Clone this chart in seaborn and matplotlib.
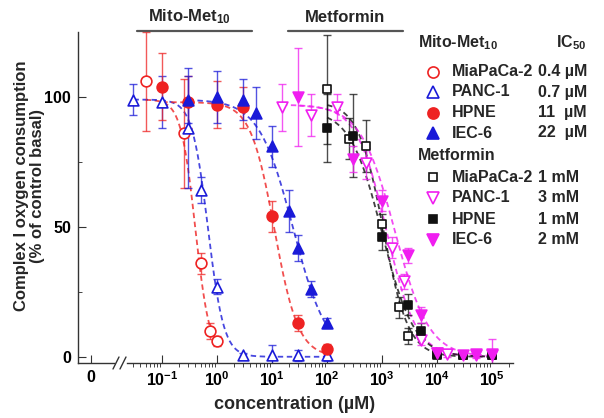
import numpy as np
import pandas as pd
import seaborn as sns
import matplotlib.pyplot as plt
from matplotlib.lines import Line2D

# ---- data (concentration in uM, % of control basal) ----
mm_mia_x = [0.05, 0.25, 0.5, 0.75, 1.0]
mm_mia_y = [106, 86, 36, 10, 6]
mm_mia_e = [19, 21, 4, 3, 2]

mm_panc_x = [0.03, 0.1, 0.3, 0.5, 1, 3, 10, 30, 100]
mm_panc_y = [99, 98, 88, 64, 27, 0.5, 0.5, 0.5, 0.5]
mm_panc_e = [6, 10, 23, 5, 3, 1, 4, 2, 2]

mm_hpne_x = [0.1, 0.3, 1, 3, 10, 30, 100]
mm_hpne_y = [104, 98, 97, 96, 54, 13, 3]
mm_hpne_e = [13, 10, 9, 8, 6, 3, 2]

mm_iec_x = [0.3, 1, 3, 5, 10, 20, 30, 50, 100]
mm_iec_y = [99, 100, 99, 94, 81, 56, 42, 26, 13]
mm_iec_e = [9, 10, 8, 10, 8, 8, 5, 3, 2]

met_mia_x = [100, 250, 500, 1000, 2000, 3000, 10000, 30000, 100000]
met_mia_y = [103, 84, 81, 51, 19, 8, 1, 0.5, 0.5]
met_mia_e = [21, 8, 10, 4, 4, 3, 1, 1, 1]

met_panc_x = [15, 50, 150, 500, 1500, 2500, 5000, 10000, 15000, 50000, 100000]
met_panc_y = [96, 93, 96, 74.5, 42, 29, 6.5, 1.5, 1, 1, 1]
met_panc_e = [9, 8, 5, 6, 4, 3, 2, 1, 1, 1, 6]

met_hpne_x = [100, 300, 1000, 3000, 5000, 10000, 30000, 100000]
met_hpne_y = [88, 85, 46, 20, 10, 0.5, 0.5, 0.5]
met_hpne_e = [13, 16, 5, 4, 3, 1, 1, 1]

met_iec_x = [30, 300, 1000, 3000, 5000, 10000, 30000, 50000, 100000]
met_iec_y = [100, 76, 60, 39, 16, 1.5, 0.5, 0.5, 0.5]
met_iec_e = [19, 5, 4, 3, 3, 1, 1, 1, 1]

cells = ["MiaPaCa-2", "PANC-1", "HPNE", "IEC-6"]
mm_ic50 = ["0.4 \u00b5M", "0.7 \u00b5M", "11  \u00b5M", "22  \u00b5M"]
met_ic50 = ["1 mM", "3 mM", "1 mM", "2 mM"]

# Hill fit parameters (top, midpoint, slope) for the dashed curves
mm_fit_top = [99, 99, 98, 99]
mm_fit_ec = [0.4, 0.68, 11, 24]
mm_fit_h = [3.3, 3.0, 2.0, 1.4]
met_fit_top = [98, 97, 95, 97]
met_fit_ec = [1050, 1200, 1000, 1700]
met_fit_h = [1.9, 1.6, 1.5, 1.4]

RED, BLUE, MAG, BLK = "#ee2222", "#1a1ad8", "#f01ef0", "#111111"

series = [
    (mm_mia_x, mm_mia_y, mm_mia_e, RED, "o", False),
    (mm_panc_x, mm_panc_y, mm_panc_e, BLUE, "^", False),
    (mm_hpne_x, mm_hpne_y, mm_hpne_e, RED, "o", True),
    (mm_iec_x, mm_iec_y, mm_iec_e, BLUE, "^", True),
    (met_mia_x, met_mia_y, met_mia_e, BLK, "s", False),
    (met_panc_x, met_panc_y, met_panc_e, MAG, "v", False),
    (met_hpne_x, met_hpne_y, met_hpne_e, BLK, "s", True),
    (met_iec_x, met_iec_y, met_iec_e, MAG, "v", True),
]
fits = list(zip(mm_fit_top + met_fit_top, mm_fit_ec + met_fit_ec, mm_fit_h + met_fit_h))

sns.set_style("ticks")
plt.rcParams["font.family"] = ["Liberation Sans", "DejaVu Sans"]
plt.rcParams["font.weight"] = "bold"
plt.rcParams["mathtext.fontset"] = "custom"
plt.rcParams["mathtext.rm"] = "Liberation Sans:bold"
plt.rcParams["mathtext.it"] = "Liberation Sans:bold"
plt.rcParams["mathtext.bf"] = "Liberation Sans:bold"
plt.rcParams["mathtext.default"] = "rm"

fig = plt.figure(figsize=(6.04, 4.18), dpi=100)
W, H = 604, 418
ax0 = fig.add_axes([78 / W, 55 / H, 36 / W, 331 / H])
ax = fig.add_axes([127 / W, 55 / H, 386 / W, 331 / H], sharey=ax0)

SPC = "#333333"
for a in (ax0, ax):
    for s in ("top", "right"):
        a.spines[s].set_visible(False)
    for s in ("left", "bottom"):
        a.spines[s].set_color(SPC)
        a.spines[s].set_linewidth(1.0)
    a.tick_params(direction="in", colors=SPC, labelcolor="black", labelsize=11.5)
ax.spines["left"].set_visible(False)

# fitted dose-response curves
for (xs, ys, es, col, mk, filled), (top, ec, h) in zip(series, fits):
    xf = np.logspace(np.log10(min(xs)), np.log10(max(xs)), 200)
    yf = top / (1 + (xf / ec) ** h)
    sns.lineplot(x=xf, y=yf, ax=ax, color=col, linewidth=1.3, alpha=0.8,
                 linestyle=(0, (3, 2)), zorder=2)

# points with error bars
for xs, ys, es, col, mk, filled in series:
    ax.errorbar(xs, ys, yerr=es, fmt="none", ecolor=col, elinewidth=1.0,
                capsize=3, capthick=1.0, alpha=0.75, zorder=2.5)
    size = 40 if mk == "s" else 60
    sns.scatterplot(x=xs, y=ys, ax=ax, marker=mk, s=size,
                    facecolor=col if filled else "white", edgecolor=col,
                    linewidth=1.2, zorder=3)

ax.set_xscale("log")
ax.set_xlim(10 ** -1.64, 10 ** 5.38)
ax.set_xticks([10.0 ** k for k in range(-1, 6)])
ax.set_xticklabels([r"10$^{%d}$" % k for k in range(-1, 6)])
ax.set_ylim(-2.4, 125)
ax.set_xlabel("concentration (\u00b5M)", fontsize=13, fontweight="bold", labelpad=0)
ax.xaxis.set_label_coords(0.435, -0.1)

ax0.set_xlim(-1, 1.77)
ax0.set_xticks([0])
ax0.set_xticklabels(["0"])
ax0.set_yticks([0, 50, 100])
ax0.set_yticks([25, 75], minor=True)
ax0.tick_params(axis="both", which="major", length=6, pad=5)
ax0.tick_params(axis="y", which="minor", direction="in", length=3, left=True)
ax0.set_ylabel("Complex I oxygen consumption\n(% of control basal)",
               fontsize=12, fontweight="bold", linespacing=1.1)
ax0.yaxis.set_label_coords(-0.92, 0.535)

ax.tick_params(axis="y", which="both", left=False, labelleft=False)
ax.tick_params(axis="x", which="major", length=6, pad=5)
ax.tick_params(axis="x", which="minor", length=3)

# axis break marks
for x0 in (113, 120):
    fig.add_artist(Line2D([x0 / W, (x0 + 6) / W], [1 - 369 / H, 1 - 357 / H],
                          color=SPC, linewidth=1.0))

# drug group labels above the plot
for label, cx, x1, x2 in [("Mito-Met$_{10}$", 190, 137, 252), ("Metformin", 345, 288, 403)]:
    fig.text(cx / W, 1 - 17 / H, label, ha="center", va="center", fontsize=12, fontweight="bold")
    fig.add_artist(Line2D([x1 / W, x2 / W], [1 - 31 / H, 1 - 31 / H], color="#555555", linewidth=1.6))

# legend with IC50 values
fig.text(418 / W, 1 - 43 / H, "Mito-Met$_{10}$", va="center", fontsize=11.5, fontweight="bold")
fig.text(556 / W, 1 - 43 / H, "IC$_{50}$", va="center", fontsize=11.5, fontweight="bold")
fig.text(418 / W, 1 - 155 / H, "Metformin", va="center", fontsize=11.5, fontweight="bold")
rows_y = [71.5, 92, 112.5, 133, 177, 198, 219, 240]
labels = cells + cells
ic50s = mm_ic50 + met_ic50
for (xs, ys, es, col, mk, filled), py, name, ic in zip(series, rows_y, labels, ic50s):
    fy = 1 - py / H
    ms = 6 if mk == "s" else 8
    fig.add_artist(Line2D([433 / W], [fy], marker=mk, markersize=ms, linestyle="none",
                          markerfacecolor=col if filled else "white",
                          markeredgecolor=col, markeredgewidth=1.2))
    fig.text(452 / W, fy, name, va="center", fontsize=11.5, fontweight="bold")
    fig.text(538 / W, fy, ic, va="center", fontsize=11.5, fontweight="bold")

fig.savefig("out.png", dpi=100)
